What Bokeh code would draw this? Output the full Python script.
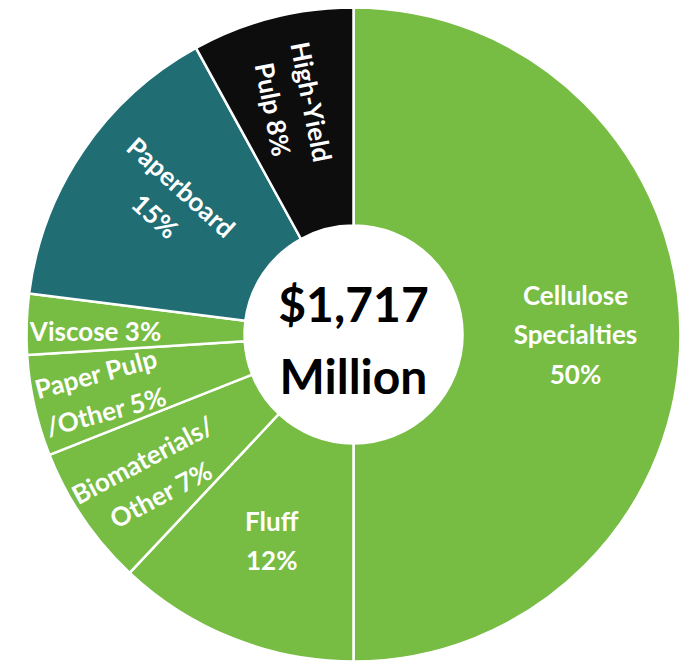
import math
from bokeh.plotting import figure
from bokeh.models import Range1d, ColumnDataSource
from bokeh.core.properties import value
from bokeh.embed import file_html
from bokeh.resources import INLINE

# ---- data ----
segments = ["Cellulose Specialties", "Fluff", "Biomaterials/Other", "Paper Pulp/Other",
            "Viscose", "Paperboard", "High-Yield Pulp"]
shares = [50, 12, 7, 5, 3, 15, 8]
label_texts = ["Cellulose\nSpecialties\n50%", "Fluff\n12%", "Biomaterials/\nOther 7%",
               "Paper Pulp\n/Other 5%", "Viscose 3%", "Paperboard\n15%", "High-Yield\nPulp 8%"]
total_label = "$1,717\nMillion"

# ---- styles / layout ----
GREEN = "#77BC43"
TEAL = "#206E74"
BLACK = "#0D0D0D"
colors = [GREEN, GREEN, GREEN, GREEN, GREEN, TEAL, BLACK]
label_radius = [222, 222, 247, 259, 258, 228, 237]
label_rot_deg = [0, 0, 28, 15, 0, -42, -79]
label_angle_shift = [0, 0, 1.0, 0.3, 1.0, -1.5, 0.5]

W, H = 683, 661
cx, cy = 353, H - 334
R_OUT, R_IN = 327, 109

total = sum(shares)
starts, ends = [], []
cum = 0
for s in shares:
    a0 = math.pi / 2 - 2 * math.pi * (cum + s) / total
    a1 = math.pi / 2 - 2 * math.pi * cum / total
    starts.append(a0)
    ends.append(a1)
    cum += s

src = ColumnDataSource(dict(seg=segments, start=starts, end=ends, color=colors))

p = figure(width=W, height=H, output_backend="svg", toolbar_location=None,
           x_range=Range1d(0, W), y_range=Range1d(0, H), min_border=0)
p.axis.visible = False
p.grid.visible = False
p.outline_line_color = None
p.background_fill_color = "white"
p.border_fill_color = "white"

p.annular_wedge(x=cx, y=cy, inner_radius=R_IN, outer_radius=R_OUT,
                start_angle="start", end_angle="end", fill_color="color",
                line_color="white", line_width=2.5, source=src)

lx, ly, la = [], [], []
for i in range(len(shares)):
    mid = (starts[i] + ends[i]) / 2 + math.radians(label_angle_shift[i])
    lx.append(cx + label_radius[i] * math.cos(mid))
    ly.append(cy + label_radius[i] * math.sin(mid))
    la.append(math.radians(label_rot_deg[i]))

lsrc = ColumnDataSource(dict(x=lx, y=ly, t=label_texts, a=la))
p.text(x="x", y="y", text="t", angle="a", source=lsrc, text_color="white",
       text_font=value("Lato"), text_font_style="bold", text_font_size="26px",
       text_align="center", text_baseline="middle", text_line_height=1.22)

p.text(x=[cx], y=[cy - 5], text=[total_label], text_color="black",
       text_font=value("Lato"), text_font_style="bold", text_font_size="48px",
       text_align="center", text_baseline="middle", text_line_height=1.25)

open("out.html", "w").write(file_html(p, INLINE))
